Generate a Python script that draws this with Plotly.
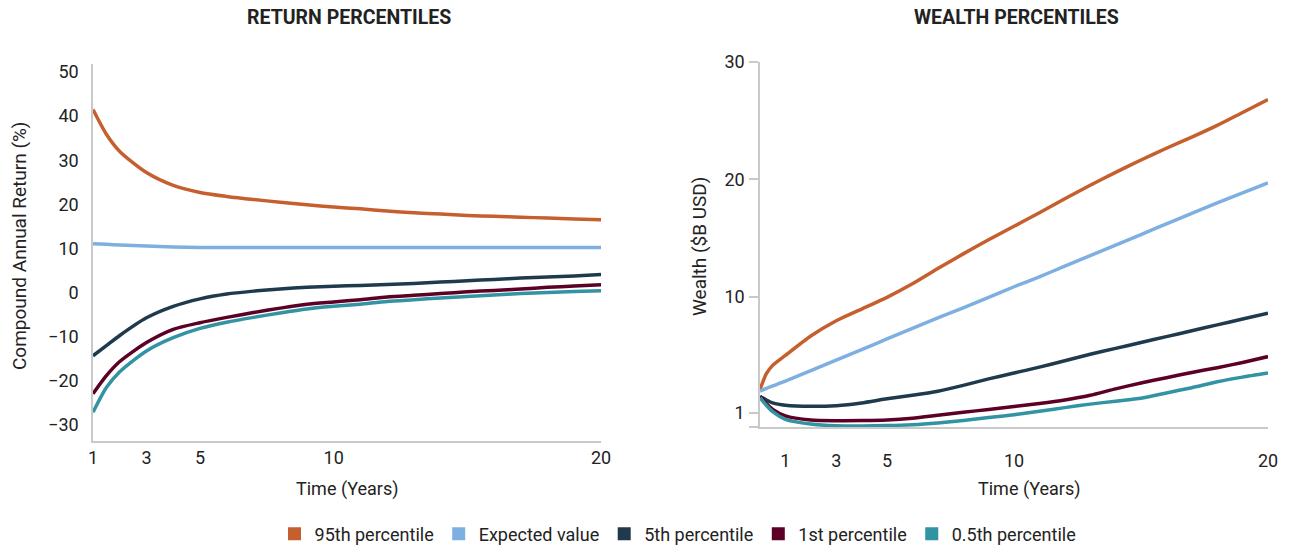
import plotly.graph_objects as go

# ---------------- data ----------------
series_names = ["95th percentile", "Expected value", "5th percentile", "1st percentile", "0.5th percentile"]
series_colors = ["#C65F2E", "#7DB0E1", "#1F3A4C", "#5C0025", "#3293A3"]

# Return percentiles (compound annual return, %)
ret_years = [1, 1.5, 2, 3, 4, 5, 6, 7, 8, 9, 10, 11, 12, 13, 14, 15, 16, 17, 18, 19, 20]
ret_p95 = [41.5, 35.9, 32.0, 27.2, 24.3, 22.7, 21.8, 21.1, 20.5, 19.9, 19.4, 19.0, 18.5, 18.1, 17.8, 17.5, 17.3, 17.1, 16.9, 16.7, 16.5]
ret_exp = [11.1, 10.95, 10.8, 10.55, 10.35, 10.25, 10.25, 10.25, 10.25, 10.25, 10.25, 10.25, 10.25, 10.25, 10.25, 10.25, 10.25, 10.25, 10.25, 10.25, 10.25]
ret_p5 = [-14.3, -12.0, -9.7, -5.7, -3.1, -1.4, -0.3, 0.35, 0.85, 1.2, 1.45, 1.65, 1.85, 2.1, 2.4, 2.7, 3.0, 3.3, 3.55, 3.8, 4.1]
ret_p1 = [-22.9, -18.8, -15.6, -11.3, -8.3, -6.8, -5.6, -4.5, -3.5, -2.6, -2.1, -1.6, -1.0, -0.6, -0.2, 0.2, 0.5, 0.85, 1.2, 1.5, 1.8]
ret_p05 = [-27.1, -21.5, -17.9, -13.2, -10.2, -8.1, -6.7, -5.6, -4.6, -3.7, -3.1, -2.6, -2.0, -1.6, -1.2, -0.85, -0.5, -0.2, 0.05, 0.25, 0.45]

# Wealth percentiles ($B USD)
w_years = [0, 0.25, 0.5, 1, 2, 3, 4, 5, 6, 7, 8, 9, 10, 11, 12, 13, 14, 15, 16, 17, 18, 19, 20]
w_p95 = [2.1, 3.45, 4.15, 5.0, 6.65, 7.95, 8.95, 9.95, 11.1, 12.4, 13.65, 14.85, 16.0, 17.15, 18.35, 19.5, 20.6, 21.65, 22.65, 23.6, 24.6, 25.7, 26.8]
w_exp = [1.95, 2.2, 2.4, 2.8, 3.7, 4.6, 5.5, 6.4, 7.3, 8.2, 9.05, 9.95, 10.85, 11.7, 12.6, 13.5, 14.4, 15.3, 16.2, 17.1, 18.0, 18.85, 19.7]
w_p5 = [1.5, 1.2, 0.95, 0.75, 0.66, 0.72, 0.95, 1.3, 1.6, 1.95, 2.45, 3.0, 3.5, 4.0, 4.55, 5.1, 5.6, 6.1, 6.6, 7.1, 7.6, 8.1, 8.6]
w_p1 = [1.5, 0.9, 0.4, -0.15, -0.5, -0.56, -0.55, -0.5, -0.35, -0.1, 0.15, 0.4, 0.65, 0.9, 1.2, 1.6, 2.15, 2.65, 3.1, 3.55, 3.95, 4.4, 4.9]
w_p05 = [1.4, 0.75, 0.2, -0.45, -0.85, -1.0, -1.02, -0.98, -0.9, -0.75, -0.55, -0.3, -0.05, 0.25, 0.55, 0.85, 1.1, 1.35, 1.8, 2.25, 2.75, 3.15, 3.5]

ret_ticks = [-30, -20, -10, 0, 10, 20, 30, 40, 50]
ret_ticktext = ["\u221230", "\u221220", "\u221210", "0", "10", "20", "30", "40", "50"]
x_ticks = [1, 3, 5, 10, 20]
w_tickvals = [-1.1, 0.12, 10, 20, 30]
w_ticktext = ["", "1", "10", "20", "30"]

FONT = "Roboto"
TXT = "#222222"
AXC = "#C9C9C9"

fig = go.Figure()

ret_series = [ret_p95, ret_exp, ret_p5, ret_p1, ret_p05]
w_series = [w_p95, w_exp, w_p5, w_p1, w_p05]

for vals, col in zip(ret_series, series_colors):
    fig.add_trace(go.Scatter(x=ret_years, y=vals, mode="lines", line=dict(color=col, width=3.5, shape="spline", smoothing=0.7),
                             showlegend=False, xaxis="x", yaxis="y", hoverinfo="skip"))
for vals, col in zip(w_series, series_colors):
    fig.add_trace(go.Scatter(x=w_years, y=vals, mode="lines", line=dict(color=col, width=3.5, shape="spline", smoothing=0.6),
                             showlegend=False, xaxis="x2", yaxis="y2", hoverinfo="skip"))
# legend entries (square swatches)
for name, col in zip(series_names, series_colors):
    fig.add_trace(go.Scatter(x=[None], y=[None], mode="markers", name=name,
                             marker=dict(symbol="square", size=13, color=col), xaxis="x", yaxis="y"))

W, H = 1289, 546
def px_x(p): return p / W
def px_y(p): return 1 - p / H

fig.update_layout(
    width=W, height=H,
    margin=dict(l=0, r=0, t=0, b=0, autoexpand=False),
    paper_bgcolor="white", plot_bgcolor="white",
    font=dict(family=FONT, size=17, color=TXT),
    xaxis=dict(domain=[px_x(93), px_x(601)], range=[1, 20], tickvals=x_ticks, showgrid=False, zeroline=False,
               showline=True, linecolor=AXC, linewidth=1.5, ticks="", ticklabelstandoff=0,
               tickfont=dict(size=18, color=TXT), automargin=False),
    yaxis=dict(domain=[px_y(441), px_y(64)], range=[-33.6, 51.8], tickvals=ret_ticks, ticktext=ret_ticktext,
               showgrid=False, zeroline=False, showline=True, linecolor=AXC, linewidth=1.5, ticks="",
               ticklabelstandoff=9, tickfont=dict(size=18, color=TXT), automargin=False),
    xaxis2=dict(domain=[px_x(760), px_x(1268)], range=[0, 20], tickvals=x_ticks, showgrid=False, zeroline=False,
                showline=True, linecolor=AXC, linewidth=1.5, ticks="", ticklabelstandoff=17,
                tickfont=dict(size=18, color=TXT), anchor="y2", automargin=False),
    yaxis2=dict(domain=[px_y(427), px_y(62)], range=[-1.1, 30], tickvals=w_tickvals, ticktext=w_ticktext,
                showgrid=False, zeroline=False, showline=True, linecolor=AXC, linewidth=1.5,
                ticks="outside", ticklen=9, tickcolor=AXC, tickwidth=1.5, ticklabelstandoff=1,
                tickfont=dict(size=18, color=TXT), anchor="x2", automargin=False),
    legend=dict(orientation="h", x=0.526, xanchor="center", y=px_y(534), yanchor="middle",
                font=dict(size=18, color=TXT), itemwidth=30, tracegroupgap=0, bgcolor="rgba(0,0,0,0)"),
    showlegend=True,
)

ann = [
    dict(text="<b>RETURN PERCENTILES</b>", x=px_x(349), y=px_y(18), size=19.5),
    dict(text="<b>WEALTH PERCENTILES</b>", x=px_x(1016), y=px_y(18), size=19.5),
    dict(text="Time (Years)", x=px_x(347), y=px_y(489), size=18),
    dict(text="Time (Years)", x=px_x(1029), y=px_y(489), size=18),
    dict(text="Compound Annual Return (%)", x=px_x(20), y=px_y(246), size=19, textangle=-90),
    dict(text="Wealth ($B USD)", x=px_x(700), y=px_y(247), size=19, textangle=-90),
]
for a in ann:
    size = a.pop("size")
    fig.add_annotation(xref="paper", yref="paper", showarrow=False, xanchor="center", yanchor="middle",
                       font=dict(family=FONT, size=size, color=TXT), **a)

fig.write_html("out.html", config={"displayModeBar": False},
               post_script="document.body.style.margin='0';document.body.style.overflow='hidden';")
